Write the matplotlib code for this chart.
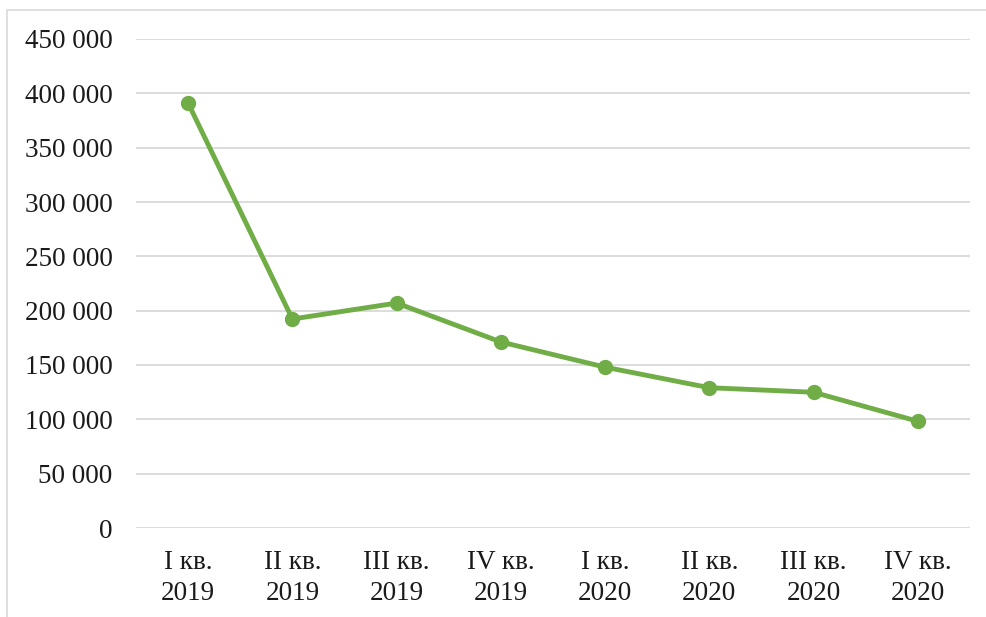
import matplotlib.pyplot as plt
from matplotlib.patches import Rectangle

quarters = ['I кв.\n2019', 'II кв.\n2019', 'III кв.\n2019', 'IV кв.\n2019',
            'I кв.\n2020', 'II кв.\n2020', 'III кв.\n2020', 'IV кв.\n2020']
values = [391000, 192300, 207000, 171200, 148000, 129100, 124900, 98200]
yticks = list(range(0, 450001, 50000))
ytick_labels = ['0'] + [f'{v // 1000} 000' for v in yticks[1:]]

plt.rcParams['font.family'] = ['Liberation Serif', 'DejaVu Serif']

W, H = 986, 617
fig = plt.figure(figsize=(W / 100, H / 100), dpi=100)
ax = fig.add_axes([136 / W, (H - 528) / H, (970 - 136) / W, (528 - 39) / H])

# outer frame of the chart area
fig.patches.append(Rectangle((7 / W, -0.1), 1.1, (H - 10) / H + 0.1,
                             transform=fig.transFigure, fill=False,
                             edgecolor='#d9d9d9', linewidth=1.2))

x = range(len(quarters))
ax.plot(x, values, color='#70AD47', linewidth=3.5, marker='o',
        markersize=10, zorder=3)

ax.set_xlim(-0.5, len(quarters) - 0.5)
ax.set_ylim(0, 450000)
ax.set_yticks(yticks)
ax.set_yticklabels(ytick_labels)
ax.set_xticks(list(x))
ax.set_xticklabels(quarters, linespacing=1.3)

ax.grid(axis='y', color='#d9d9d9', linewidth=1.3)
ax.set_axisbelow(True)
for s in ax.spines.values():
    s.set_visible(False)
ax.tick_params(axis='both', length=0, labelsize=19.5, colors='#1a1a1a')
ax.tick_params(axis='y', pad=17)
ax.tick_params(axis='x', pad=16)

fig.savefig('out.png', dpi=100)
